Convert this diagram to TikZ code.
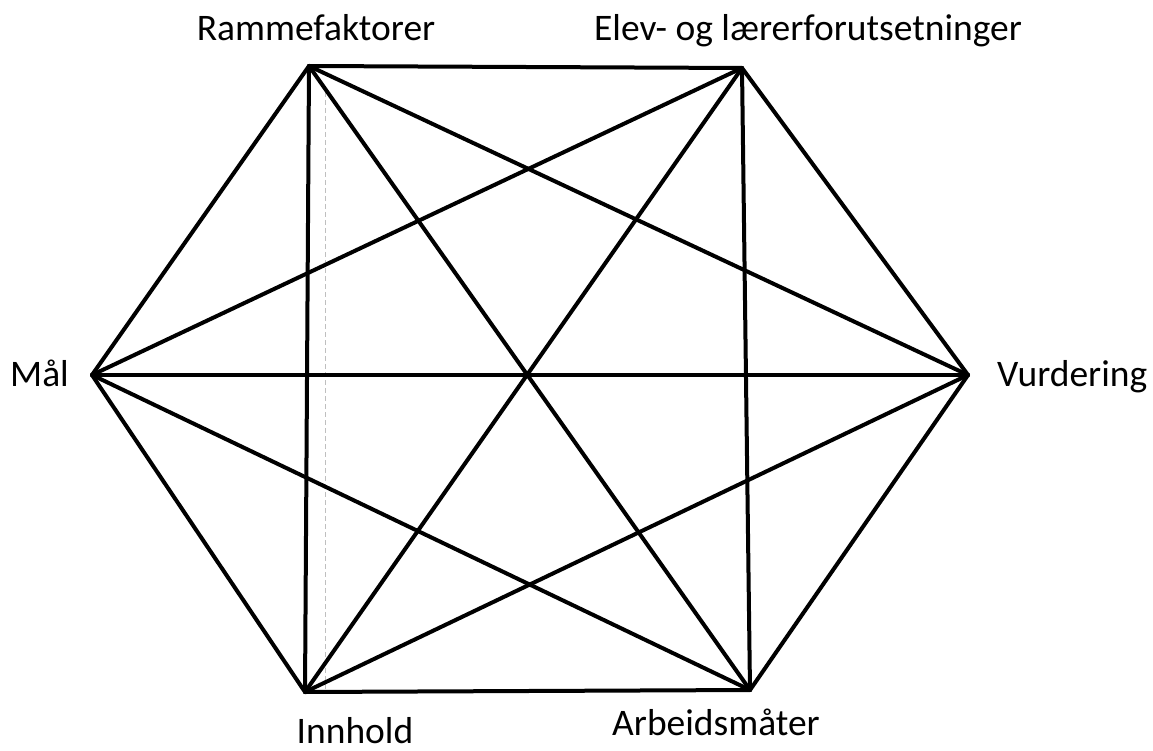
\documentclass[tikz,border=0pt]{standalone}
\usepackage{fontspec}
\setmainfont{Carlito}
\begin{document}
\begin{tikzpicture}[x=1pt,y=-1pt,
  edge/.style={line width=4pt,line cap=round,line join=round},
  lbl/.style={font=\fontsize{37.5}{44}\selectfont,inner sep=0pt},
  guide/.style={gray!50,line width=0.8pt,dash pattern=on 5pt off 3pt}]
\useasboundingbox (0,0) rectangle (1153,751);
\coordinate (R) at (309,66);
\coordinate (E) at (742,68);
\coordinate (M) at (92,375);
\coordinate (V) at (968,375);
\coordinate (I) at (305,692);
\coordinate (A) at (750,690);
\coordinate (g1) at (325,92);
\coordinate (g2) at (325,690);
\draw[guide] (g1) -- (g2);
\foreach \a/\b in {R/E,R/M,R/V,R/I,R/A,E/M,E/V,E/I,E/A,M/V,M/I,M/A,V/I,V/A,I/A}
  \draw[edge] (\a) -- (\b);
\node[lbl,anchor=base] (tR) at (316,41) {Rammefaktorer};
\node[lbl,anchor=base] (tE) at (808,41) {Elev- og lærerforutsetninger};
\node[lbl,anchor=base west] (tM) at (10,386) {Mål};
\node[lbl,anchor=base west] (tV) at (997,386) {Vurdering};
\node[lbl,anchor=base] (tI) at (355,743) {Innhold};
\node[lbl,anchor=base] (tA) at (716,735) {Arbeidsmåter};
\end{tikzpicture}
\end{document}
